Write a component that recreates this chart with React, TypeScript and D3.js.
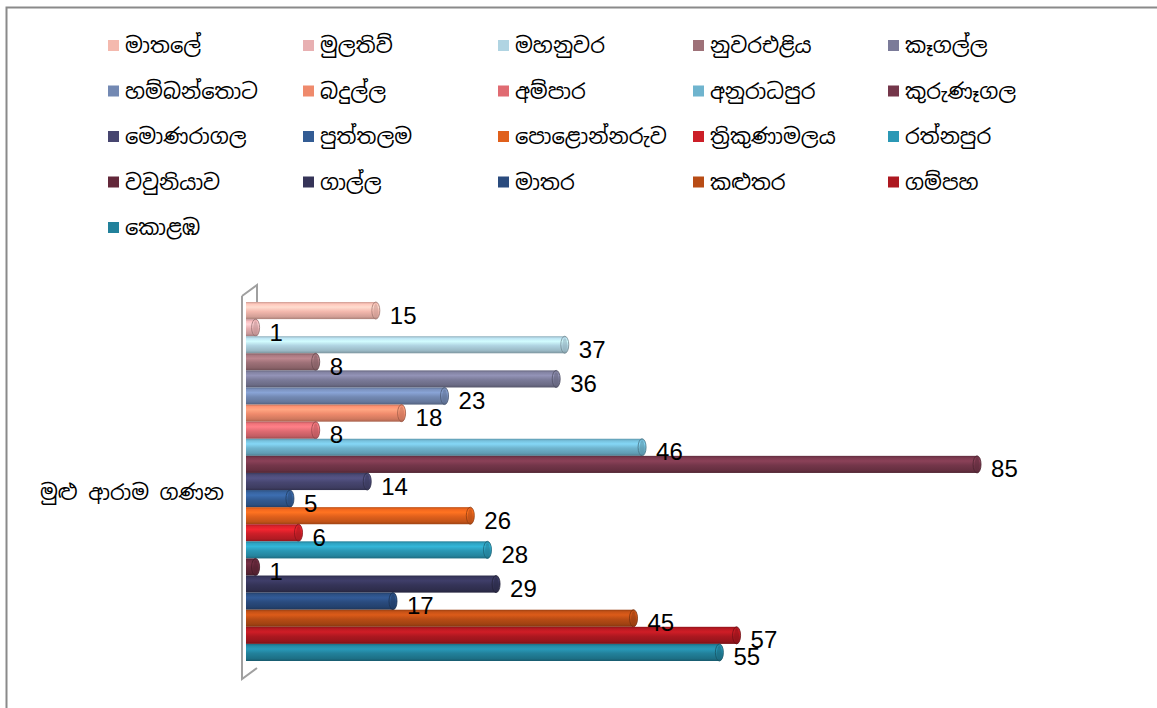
import React from "react";
import * as d3 from "d3";

const districts = [
  "මාතලේ", "මුලතිව්", "මහනුවර", "නුවරඑළිය", "කෑගල්ල",
  "හම්බන්තොට", "බදුල්ල", "අම්පාර", "අනුරාධපුර", "කුරුණෑගල",
  "මොණරාගල", "පුත්තලම", "පොළොන්නරුව", "ත්‍රිකුණාමලය", "රත්නපුර",
  "වවුනියාව", "ගාල්ල", "මාතර", "කළුතර", "ගම්පහ",
  "කොළඹ",
];
const templeCounts = [15, 1, 37, 8, 36, 23, 18, 8, 46, 85, 14, 5, 26, 6, 28, 1, 29, 17, 45, 57, 55];
const colors = [
  "#F4B9AE", "#E8B0B2", "#B0D4E2", "#9E7178", "#7B7B99",
  "#7389B3", "#EF8A6C", "#E06B72", "#6FB4CE", "#74364A",
  "#474670", "#335C94", "#E0601C", "#CC1F28", "#2B98B5",
  "#63283A", "#353458", "#2A4B7E", "#B84C15", "#AD1820",
  "#22819B",
];
const categoryLabel = "මුළු ආරාම ගණන";

const W = 1157;
const H = 708;
const FONT = "'Iskoola Pota', 'Noto Sans Sinhala', 'Noto Sans', sans-serif";

export default function App() {
  const x = d3.scaleLinear().domain([0, 90]).range([247, 1020]);
  const y = d3.scaleBand<string>().domain(districts).range([302, 661]).padding(0);
  const bh = y.bandwidth();

  const legendCols = 5;
  const legendX = (i: number) => 108 + (i % legendCols) * 195;
  const legendY = (i: number) => 46 + Math.floor(i / legendCols) * 45.5;

  return (
    <svg width={W} height={H} style={{ position: "absolute", left: 0, top: 0, background: "#fff" }}>
      <defs>
        {colors.map((c, i) => {
          const base = d3.color(c)!;
          return (
            <linearGradient id={`g${i}`} key={i} x1="0" y1="0" x2="0" y2="1">
              <stop offset="0" stopColor={base.darker(0.5).formatHex()} />
              <stop offset="0.12" stopColor={base.brighter(0.2).formatHex()} />
              <stop offset="0.3" stopColor={base.brighter(0.5).formatHex()} />
              <stop offset="0.55" stopColor={base.formatHex()} />
              <stop offset="0.85" stopColor={base.darker(0.4).formatHex()} />
              <stop offset="1" stopColor={base.darker(1).formatHex()} />
            </linearGradient>
          );
        })}
      </defs>
      {/* chart frame */}
      <path d={`M6.5,${H + 2} V7.5 H${W + 2}`} fill="none" stroke="#8a8a8a" strokeWidth={2} />

      {/* legend */}
      {districts.map((d, i) => (
        <g key={d}>
          <rect x={legendX(i)} y={legendY(i) - 6} width={11} height={11} fill={colors[i]} />
          <text x={legendX(i) + 17} y={legendY(i) + 7} fontFamily={FONT} fontSize={21} fill="#000">
            {d}
          </text>
        </g>
      ))}

      {/* 3D wall */}
      <path d="M242,296 L257,285 V305" fill="none" stroke="#a0a0a0" strokeWidth={2} />
      <path d="M242,296 V679 L257,668" fill="none" stroke="#a0a0a0" strokeWidth={2} />

      {/* bars */}
      {districts.map((d, i) => {
        const v = templeCounts[i];
        const yy = y(d)!;
        const x0 = x(0);
        const x1 = x(v);
        const base = d3.color(colors[i])!;
        const rx = 4;
        return (
          <g key={d}>
            <rect x={x0 - 1} y={yy} width={Math.max(0, x1 - x0 + 1)} height={bh} fill={`url(#g${i})`} />
            <ellipse cx={x1} cy={yy + bh / 2} rx={rx} ry={bh / 2} fill={`url(#g${i})`} stroke={base.darker(1.2).formatHex()} strokeWidth={0.8} />
            <ellipse cx={x1} cy={yy + bh / 2} rx={rx * 0.6} ry={bh / 2 - 2} fill={base.darker(0.5).formatHex()} opacity={0.6} />
          </g>
        );
      })}

      {/* value labels */}
      {districts.map((d, i) => {
        const v = templeCounts[i];
        return (
          <text key={d} x={x(v) + 14} y={y(d)! + bh / 2 + 13} fontFamily="'Liberation Sans', Arial, sans-serif" fontSize={24} fill="#000">
            {v}
          </text>
        );
      })}

      {/* category label */}
      <text x={40} y={500} fontFamily={FONT} fontSize={21} fill="#000">{categoryLabel}</text>
    </svg>
  );
}
